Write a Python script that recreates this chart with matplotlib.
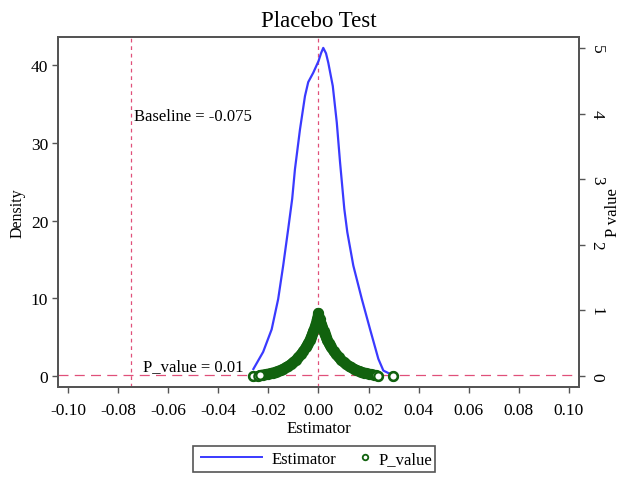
import matplotlib
matplotlib.use('Agg')
import matplotlib.pyplot as plt
from matplotlib.lines import Line2D
from matplotlib.patches import Rectangle

plt.rcParams['font.family'] = ['Liberation Serif', 'DejaVu Serif']

# kernel density of the placebo estimates
dens_x = [-0.0260, -0.0221, -0.0187, -0.0161, -0.0141, -0.0121, -0.0105, -0.0094,
          -0.0074, -0.0054, -0.0041, -0.0021, 0.0000, 0.0010, 0.0019, 0.0030,
          0.0039, 0.0057, 0.0073, 0.0086, 0.0103, 0.0115, 0.0139, 0.0173,
          0.0206, 0.0239, 0.0259, 0.0292]
dens_y = [0.9, 3.1, 6.0, 9.9, 14.2, 18.9, 22.8, 26.6,
          31.7, 36.0, 37.8, 39.0, 40.5, 41.5, 42.2, 41.5,
          40.3, 37.3, 32.6, 27.5, 21.5, 18.5, 14.2, 9.9,
          6.0, 2.2, 0.7, 0.17]

# placebo estimates and their p-values
p_est = [-0.0263, -0.0241, -0.0235, -0.0230, -0.0220, -0.0210, -0.0200, -0.0190,
         -0.0180, -0.0170, -0.0160, -0.0150, -0.0140, -0.0130, -0.0120, -0.0110,
         -0.0100, -0.0090, -0.0080, -0.0070, -0.0060, -0.0050, -0.0045, -0.0040,
         -0.0035, -0.0030, -0.0025, -0.0020, -0.0015, -0.0010, -0.0005, 0.0000,
         0.0005, 0.0010, 0.0015, 0.0020, 0.0025, 0.0030, 0.0035, 0.0040,
         0.0045, 0.0050, 0.0060, 0.0070, 0.0080, 0.0090, 0.0100, 0.0110,
         0.0120, 0.0130, 0.0140, 0.0150, 0.0160, 0.0170, 0.0180, 0.0190,
         0.0200, 0.0210, 0.0220, 0.0228, 0.0236, 0.0296]
p_val = [0.000, 0.003, 0.008, 0.012, 0.020, 0.026, 0.033, 0.042,
         0.052, 0.064, 0.077, 0.092, 0.110, 0.130, 0.153, 0.180,
         0.210, 0.245, 0.285, 0.330, 0.380, 0.440, 0.470, 0.505,
         0.545, 0.590, 0.635, 0.685, 0.740, 0.800, 0.870, 0.960,
         0.870, 0.800, 0.740, 0.685, 0.635, 0.590, 0.545, 0.505,
         0.470, 0.440, 0.380, 0.330, 0.285, 0.245, 0.210, 0.180,
         0.153, 0.130, 0.110, 0.092, 0.077, 0.064, 0.052, 0.042,
         0.033, 0.026, 0.018, 0.010, 0.004, 0.000]

baseline = -0.075
p_cut = 0.01
x_ticks = [-0.10, -0.08, -0.06, -0.04, -0.02, 0.00, 0.02, 0.04, 0.06, 0.08, 0.10]
dens_ticks = [0, 10, 20, 30, 40]
p_ticks = [0, 1, 2, 3, 4, 5]

ref_col = '#e0507a'
blue = '#3a3aff'
green = '#11620e'
spine_col = '#555555'

fig = plt.figure(figsize=(6.22, 4.81), dpi=100)
ax = fig.add_axes([58 / 622, 1 - 388 / 481, 521 / 622, 350 / 481])
ax2 = ax.twinx()

ax.plot(dens_x, dens_y, color=blue, lw=1.6, zorder=3)
ax.axvline(baseline, color=ref_col, lw=0.9, ls=(0, (3, 3)), zorder=1)
ax.axvline(0, color=ref_col, lw=0.9, ls=(0, (3, 3)), zorder=1)

# the overlapping circles form a solid band
ax2.plot(p_est[2:-2], p_val[2:-2], color=green, lw=7.5, solid_capstyle='round',
         solid_joinstyle='round', zorder=3)
ax2.plot(p_est, p_val, ls='none', marker='o', ms=6.5, mfc='white', mec=green,
         mew=1.6, zorder=2)
ax2.plot(p_est[:3] + p_est[-3:], p_val[:3] + p_val[-3:], ls='none', marker='o',
         ms=6.0, mfc='white', mec=green, mew=1.6, zorder=4)
ax2.axhline(p_cut, color=ref_col, lw=0.9, ls=(0, (8, 5)), zorder=1)

ax.set_xlim(-0.104, 0.104)
ax.set_ylim(-1.41, 43.6)
ax2.set_ylim(-0.168, 5.17)

ax.set_xticks(x_ticks)
ax.set_xticklabels(['%.2f' % t for t in x_ticks])
ax.set_yticks(dens_ticks)
ax2.set_yticks(p_ticks)

for a in (ax, ax2):
    for s in a.spines.values():
        s.set_color(spine_col)
        s.set_linewidth(1.4)
    a.tick_params(colors=spine_col, length=4, width=1.0, labelcolor='black',
                  labelsize=12.5)
ax.tick_params(axis='y', pad=3)
ax.tick_params(axis='x', pad=7)
ax2.tick_params(axis='y', pad=3)
for lab in ax2.get_yticklabels():
    lab.set_rotation(-90)
    lab.set_va('center')

ax.set_xlabel('Estimator', fontsize=12, labelpad=1)
ax.set_ylabel('Density', fontsize=11.5, labelpad=4)
ax2.set_ylabel('P value', fontsize=12, rotation=90, labelpad=0)
ax.set_title('Placebo Test', fontsize=16.5, pad=8)

ax.text(-0.0737, 33.4, 'Baseline = -0.075', fontsize=12, va='center', ha='left')
ax.text(-0.0701, 1.3, 'P_value = 0.01', fontsize=12, va='center', ha='left')

# legend: box drawn by hand so the two entries can have different handle widths
leg_y = 1 - 460 / 481
fig.add_artist(Rectangle((193 / 622, 1 - 473 / 481), 242 / 622, 26 / 481,
                         transform=fig.transFigure, fill=False, ec=spine_col, lw=1.2))
leg1 = fig.legend([Line2D([], [], color=blue, lw=1.4)], ['Estimator'],
                  loc='center left', bbox_to_anchor=(201 / 622, leg_y), fontsize=12,
                  frameon=False, handlelength=3.65, handletextpad=0.6,
                  borderpad=0, borderaxespad=0)
leg2 = fig.legend([Line2D([], [], ls='none', marker='o', ms=4, mfc='white',
                          mec=green, mew=1.3)], ['P_value'],
                  loc='center left', bbox_to_anchor=(360 / 622, leg_y), fontsize=12,
                  frameon=False, handlelength=0.6, handletextpad=0.5,
                  borderpad=0, borderaxespad=0)

fig.savefig('out.png', dpi=100)
